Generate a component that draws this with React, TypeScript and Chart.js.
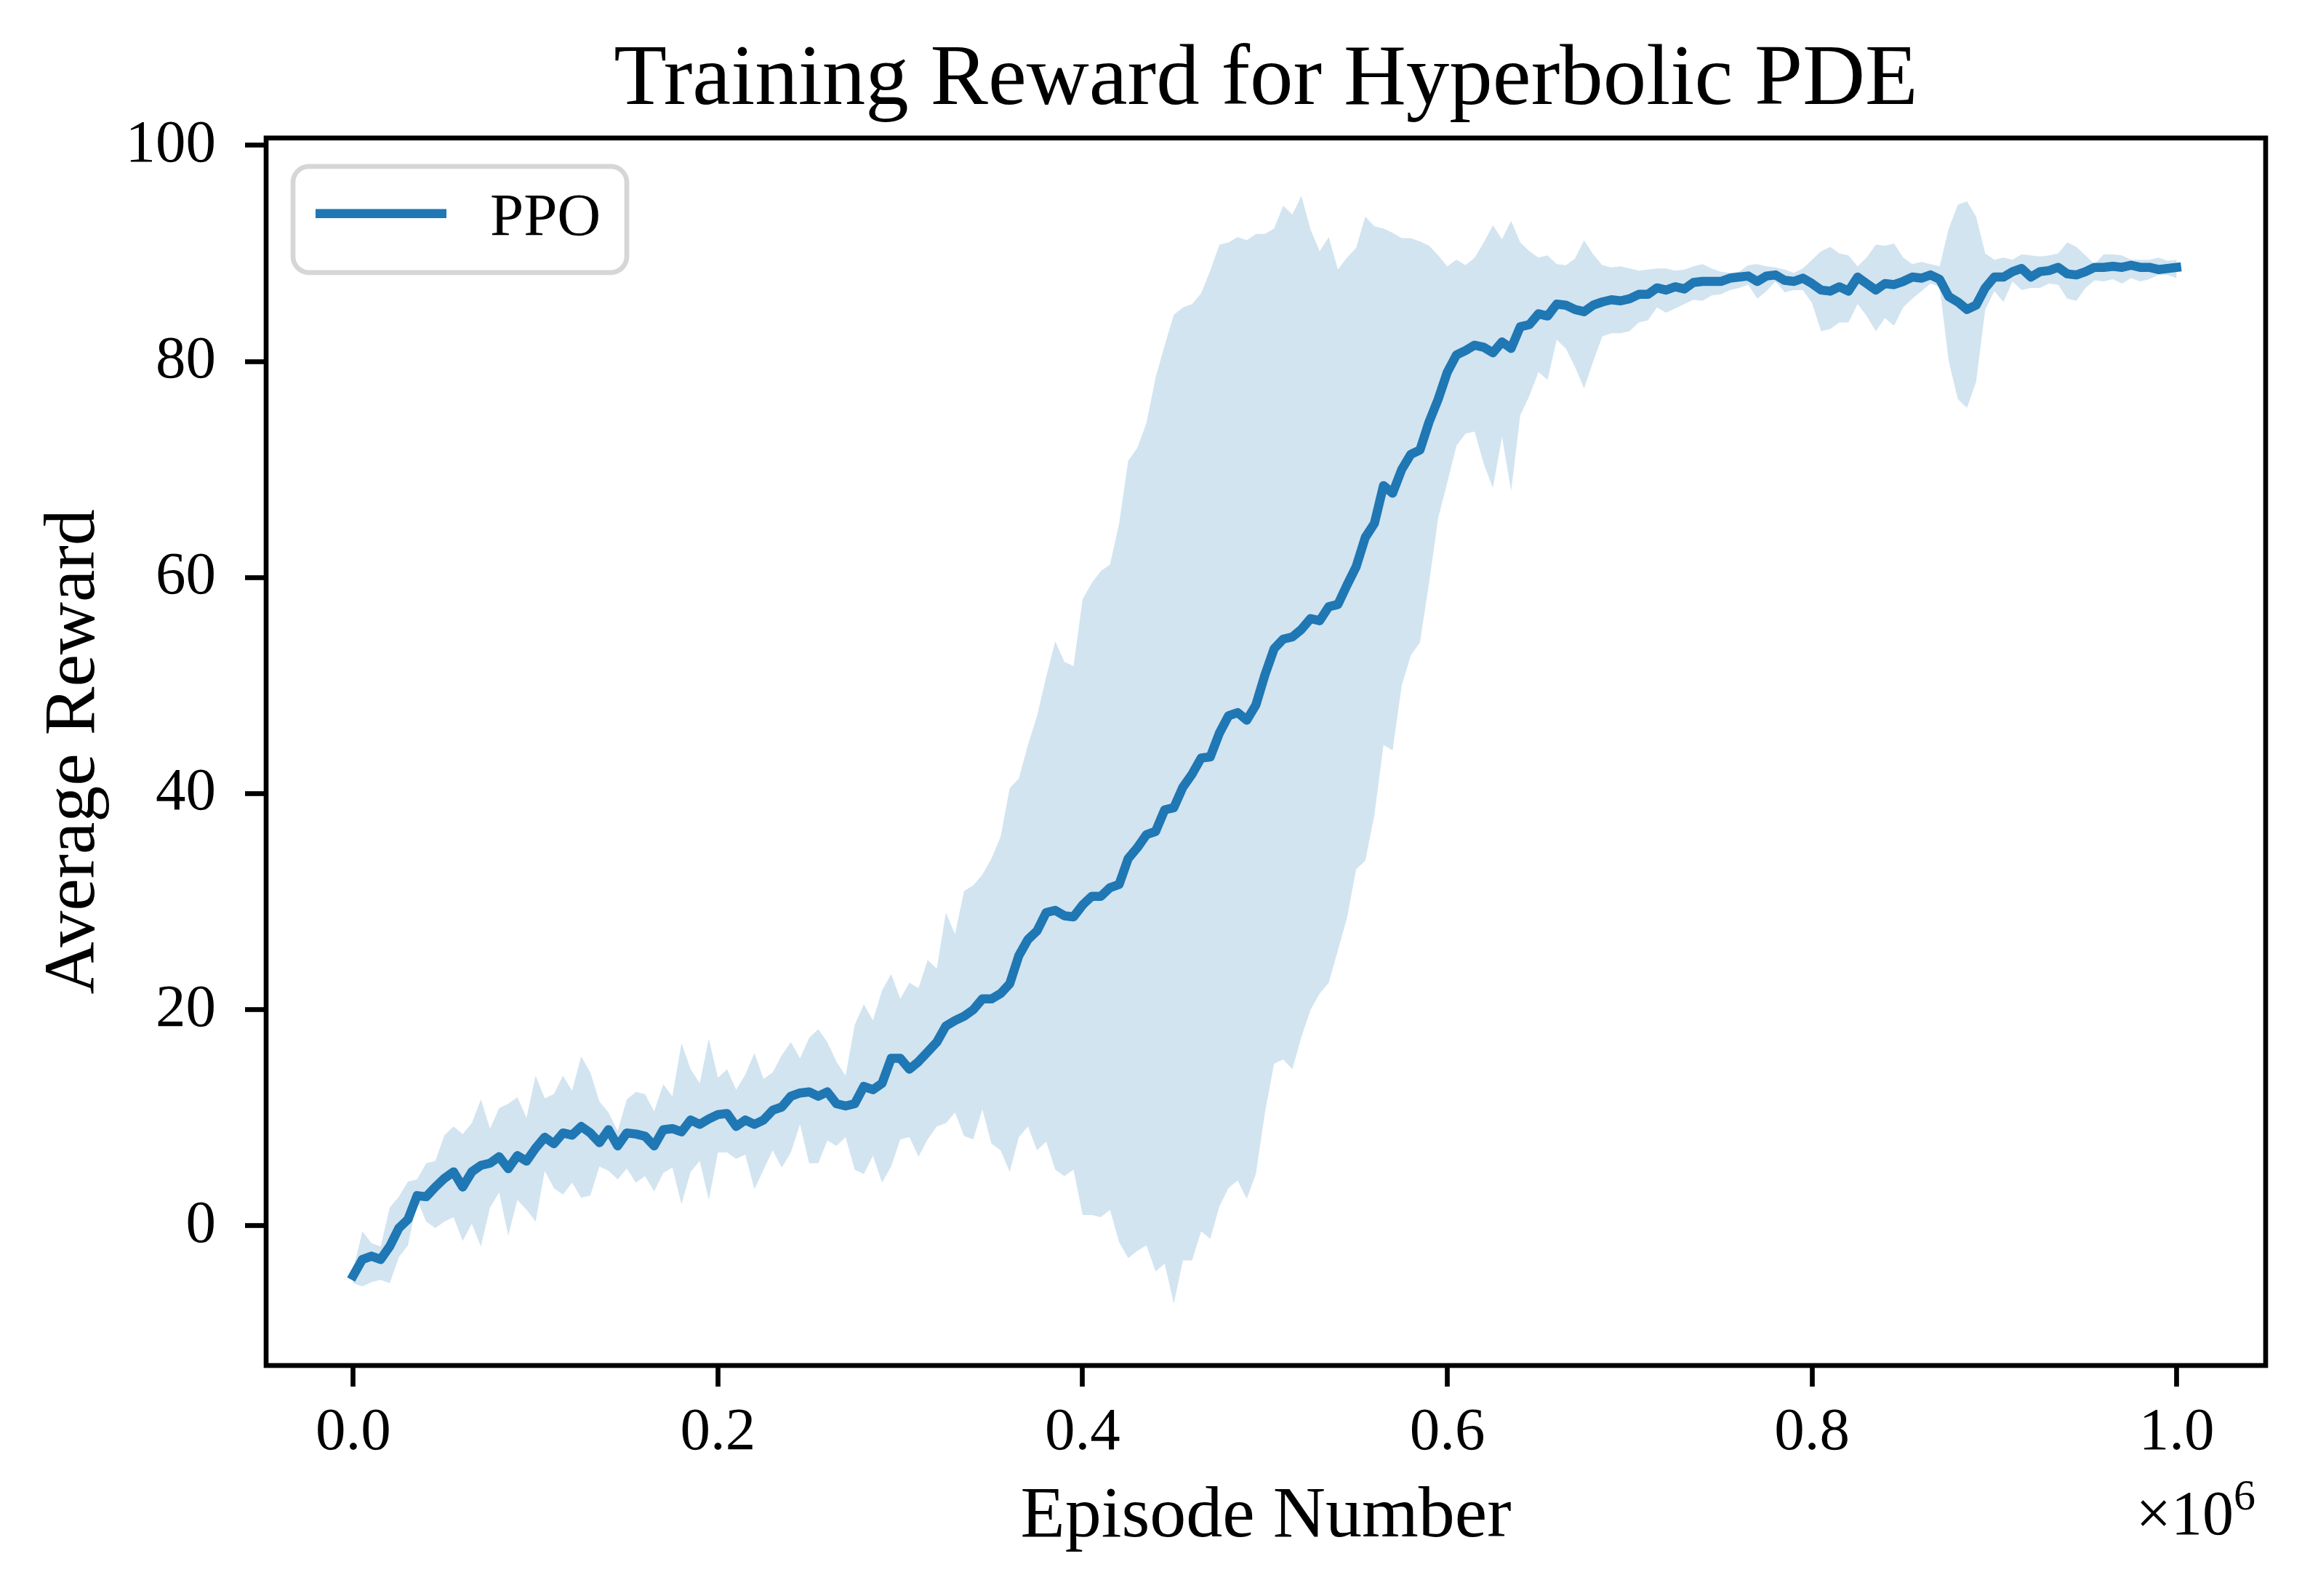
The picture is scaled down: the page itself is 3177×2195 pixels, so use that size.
import { useEffect, useRef } from "react";
import { Chart, registerables } from "chart.js";

Chart.register(...registerables);

// Episodes are logged every 5,000 steps; values below are plotted in millions of episodes.
const EPISODE_STEP_MILLIONS = 0.005;

const meanReward = [
  -4.6, -3.1, -2.8, -3.1, -1.9, -0.2, 0.6, 2.8, 2.7, 3.6,
  4.4, 5.0, 3.6, 5.0, 5.6, 5.8, 6.4, 5.3, 6.5, 6.0,
  7.2, 8.2, 7.6, 8.6, 8.4, 9.2, 8.6, 7.7, 8.9, 7.4,
  8.6, 8.5, 8.3, 7.4, 8.9, 9.0, 8.7, 9.8, 9.4, 9.9,
  10.3, 10.4, 9.2, 9.8, 9.4, 9.8, 10.7, 11.0, 12.0, 12.3,
  12.4, 12.0, 12.4, 11.3, 11.1, 11.3, 12.9, 12.6, 13.2, 15.5,
  15.5, 14.5, 15.2, 16.1, 17.0, 18.5, 19.0, 19.4, 20.0, 21.0,
  21.0, 21.5, 22.4, 25.0, 26.5, 27.3, 29.0, 29.2, 28.7, 28.6,
  29.7, 30.5, 30.5, 31.3, 31.6, 34.0, 35.0, 36.2, 36.5, 38.5,
  38.7, 40.6, 41.8, 43.3, 43.4, 45.6, 47.2, 47.5, 46.8, 48.2,
  51.0, 53.4, 54.3, 54.5, 55.2, 56.2, 56.0, 57.3, 57.5, 59.3,
  61.0, 63.7, 65.0, 68.5, 67.8, 70.0, 71.4, 71.8, 74.4, 76.5,
  79.0, 80.6, 81.0, 81.5, 81.3, 80.8, 81.8, 81.2, 83.2, 83.4,
  84.4, 84.2, 85.3, 85.2, 84.8, 84.6, 85.2, 85.5, 85.7, 85.6,
  85.8, 86.2, 86.2, 86.8, 86.6, 86.9, 86.7, 87.3, 87.4, 87.4,
  87.4, 87.7, 87.8, 87.9, 87.4, 87.9, 88.0, 87.5, 87.4, 87.7,
  87.2, 86.6, 86.5, 86.9, 86.5, 87.8, 87.2, 86.6, 87.2, 87.1,
  87.4, 87.8, 87.7, 88.0, 87.6, 86.0, 85.5, 84.8, 85.2, 86.8,
  87.8, 87.8, 88.3, 88.6, 87.8, 88.3, 88.4, 88.7, 88.1, 88.0,
  88.3, 88.7, 88.7, 88.8, 88.7, 88.9, 88.7, 88.7, 88.5, 88.6,
  88.7,
];

const upperBand = [
  -4.0, -0.5, -1.6, -1.9, 1.7, 2.7, 4.1, 4.3, 5.8, 6.0,
  8.4, 9.2, 8.5, 9.5, 11.7, 9.0, 10.9, 11.3, 11.9, 10.0,
  13.9, 11.8, 12.2, 13.9, 12.5, 15.7, 14.2, 11.5, 10.5, 8.8,
  11.7, 12.4, 12.2, 10.6, 13.1, 12.0, 16.9, 14.5, 13.2, 17.3,
  13.7, 14.5, 12.6, 14.0, 16.0, 13.6, 14.2, 15.8, 17.0, 15.5,
  17.4, 18.2, 17.0, 15.2, 13.9, 18.6, 20.5, 19.0, 21.8, 23.3,
  21.0, 22.5, 22.0, 24.6, 23.8, 29.0, 27.0, 31.0, 31.5, 32.5,
  34.0, 36.0, 40.5, 41.4, 44.5, 47.2, 50.8, 54.1, 52.2, 51.8,
  58.0, 59.5, 60.6, 61.2, 65.0, 70.8, 72.0, 74.3, 78.5, 81.5,
  84.3, 85.0, 85.3, 86.3, 88.4, 90.8, 91.0, 91.5, 91.2, 91.8,
  91.8, 92.3, 94.4, 93.6, 95.3, 92.2, 90.2, 91.5, 88.5, 89.6,
  90.5, 93.4, 92.5, 92.3, 91.9, 91.4, 91.4, 91.1, 90.7, 89.8,
  88.8, 89.4, 88.9, 89.6, 91.0, 92.6, 91.3, 93.0, 91.0, 90.2,
  89.6, 89.8, 89.0, 88.9, 89.5, 91.2, 89.9, 88.9, 88.7, 88.8,
  88.6, 88.4, 88.5, 88.6, 88.6, 88.4, 88.5, 88.8, 89.0, 88.6,
  88.3, 88.2, 88.3, 88.9, 89.0, 88.8, 88.7, 88.5, 88.2, 88.6,
  89.4, 90.2, 90.6, 90.0, 89.8, 88.8, 89.6, 90.8, 90.7, 90.9,
  89.6, 89.0, 89.2, 89.0, 88.8, 92.3, 94.5, 94.8, 93.4, 90.0,
  89.4, 89.6, 89.4, 89.9, 89.8, 89.7, 89.8, 90.0, 91.0, 90.6,
  89.8, 89.0, 89.9, 89.9, 89.8, 89.4, 89.4, 89.4, 89.6, 89.3,
  89.4,
];

const lowerBand = [
  -5.3, -5.6, -5.2, -5.0, -5.3, -2.9, -1.8, 2.4, 0.4, -0.2,
  0.4, 0.8, -1.4, 0.2, -1.9, 1.7, 3.1, -0.9, 2.4, 1.5,
  0.4, 5.1, 3.5, 2.9, 4.0, 2.6, 2.8, 5.5, 5.1, 4.3,
  5.3, 4.0, 4.6, 3.2, 4.9, 5.4, 2.0, 5.0, 6.0, 2.4,
  6.8, 6.8, 6.2, 6.6, 3.4, 5.2, 7.0, 5.4, 6.8, 9.4,
  5.8, 5.8, 7.9, 7.4, 8.2, 5.2, 4.8, 6.5, 4.0, 5.5,
  8.0, 8.2, 6.4, 8.0, 9.2, 9.5, 10.5, 8.3, 8.0, 10.8,
  7.6, 7.0, 5.0, 8.2, 9.2, 7.0, 7.8, 5.2, 4.6, 5.2,
  1.0, 1.0, 0.8, 1.5, -1.5, -3.0, -2.3, -1.8, -4.2, -3.5,
  -7.2, -3.2, -3.2, -0.5, -1.2, 1.8, 3.5, 4.2, 2.5, 4.8,
  10.5, 15.0, 15.4, 14.5, 17.5, 20.0, 21.5, 22.5, 25.5, 28.5,
  33.0, 33.8, 38.0, 44.5, 44.0, 50.0, 52.8, 54.0, 59.5, 65.5,
  68.8, 72.2, 73.3, 73.5, 70.5, 68.3, 73.0, 68.0, 75.0, 76.8,
  79.0, 78.3, 82.0, 81.2, 79.5, 77.5, 80.0, 82.3, 82.6, 82.6,
  82.8, 83.6, 83.8, 85.0, 84.5, 84.9, 85.3, 85.7, 85.6, 86.1,
  86.2, 86.6, 86.8, 87.1, 85.8, 86.5, 87.4, 86.4, 86.6, 86.6,
  85.4, 82.8, 83.0, 83.6, 83.6, 85.3, 84.2, 82.8, 84.0, 83.3,
  85.0, 85.8, 86.5, 87.2, 86.9, 80.0, 76.5, 75.7, 78.1, 84.8,
  86.5, 85.5, 87.4, 86.6, 86.8, 86.8, 87.2, 87.1, 85.8, 85.6,
  86.8, 87.5, 87.4, 87.6, 87.2, 87.7, 87.4, 87.6, 88.0, 88.0,
  87.7,
];

const xTickValues = [0, 0.2, 0.4, 0.6, 0.8, 1.0];
const yTickValues = [0, 20, 40, 60, 80, 100];

const seriesLabel = "PPO";
const chartTitle = "Training Reward for Hyperbolic PDE";
const xAxisLabel = "Episode Number";
const yAxisLabel = "Average Reward";
const xOffsetBase = "\u00d710";
const xOffsetExponent = "6";

const W = 3177;
const H = 2195;
const FONT = "'Liberation Serif', 'Times New Roman', Times, serif";
const BLUE = "#1f77b4";
const BAND = "rgba(31, 119, 180, 0.2)";
const SPINE = 6.67;
const TICK_LEN = 29;

const toPoints = (values: number[]) =>
  values.map((y, i) => ({ x: i * EPISODE_STEP_MILLIONS, y }));

// Axes frame, legend box and the x-axis scale factor text.
const decorations = {
  id: "decorations",
  afterDraw(chart: any) {
    const { ctx, chartArea: a } = chart;
    ctx.save();

    ctx.strokeStyle = "#000";
    ctx.lineWidth = SPINE;
    ctx.lineJoin = "miter";
    ctx.strokeRect(a.left, a.top, a.right - a.left, a.bottom - a.top);

    const lx = a.left + 37;
    const ly = a.top + 39;
    const lw = 459;
    const lh = 146;
    ctx.beginPath();
    ctx.roundRect(lx, ly, lw, lh, 22);
    ctx.fillStyle = "rgba(255,255,255,0.8)";
    ctx.fill();
    ctx.strokeStyle = "#d6d6d6";
    ctx.lineWidth = 6.67;
    ctx.stroke();

    ctx.strokeStyle = BLUE;
    ctx.lineWidth = 12.5;
    ctx.lineCap = "butt";
    ctx.beginPath();
    ctx.moveTo(lx + 31, ly + 65);
    ctx.lineTo(lx + 211, ly + 65);
    ctx.stroke();

    ctx.fillStyle = "#000";
    ctx.textAlign = "left";
    ctx.textBaseline = "alphabetic";
    ctx.font = `83px ${FONT}`;
    ctx.fillText(chart.data.datasets[0].label, lx + 271, ly + 94);

    const expFont = `60px ${FONT}`;
    ctx.font = expFont;
    const expW = ctx.measureText(xOffsetExponent).width;
    ctx.font = `86px ${FONT}`;
    const baseW = ctx.measureText(xOffsetBase).width;
    const right = a.right - 14;
    const baseY = a.bottom + 232;
    ctx.fillText(xOffsetBase, right - expW - baseW, baseY);
    ctx.font = expFont;
    ctx.fillText(xOffsetExponent, right - expW, baseY - 34);

    ctx.restore();
  },
};

export default function App() {
  const canvasRef = useRef<HTMLCanvasElement>(null);

  useEffect(() => {
    const canvas = canvasRef.current;
    if (!canvas) return;

    const tickFont = { family: FONT, size: 83 };

    const chart = new Chart(canvas, {
      type: "line",
      data: {
        datasets: [
          {
            label: seriesLabel,
            data: toPoints(meanReward),
            borderColor: BLUE,
            borderWidth: 12.5,
            pointRadius: 0,
            tension: 0,
            fill: false,
            borderJoinStyle: "round",
            borderCapStyle: "square",
          },
          {
            label: "upper",
            data: toPoints(upperBand),
            borderColor: "transparent",
            borderWidth: 0,
            pointRadius: 0,
            tension: 0,
            fill: "+1",
            backgroundColor: BAND,
          },
          {
            label: "lower",
            data: toPoints(lowerBand),
            borderColor: "transparent",
            borderWidth: 0,
            pointRadius: 0,
            tension: 0,
            fill: false,
          },
        ],
      },
      options: {
        animation: false,
        responsive: false,
        devicePixelRatio: 1,
        events: [],
        layout: { padding: { left: 0, right: 61, top: 0, bottom: 0 } },
        plugins: {
          legend: { display: false },
          tooltip: { enabled: false },
          title: {
            display: true,
            text: chartTitle,
            color: "#000",
            fullSize: false,
            font: { family: FONT, size: 119, weight: "normal" },
            padding: { top: 40, bottom: 7 },
          },
        },
        scales: {
          x: {
            type: "linear",
            min: -0.0478,
            max: 1.0488,
            afterBuildTicks: (scale: any) => {
              scale.ticks = xTickValues.map((v) => ({ value: v }));
            },
            afterFit: (scale: any) => {
              scale.height = 317;
            },
            ticks: {
              color: "#000",
              font: tickFont,
              padding: 14,
              maxRotation: 0,
              autoSkip: false,
              callback: (v: any) => Number(v).toFixed(1),
            },
            grid: {
              display: true,
              drawOnChartArea: false,
              drawTicks: true,
              tickLength: TICK_LEN,
              tickWidth: SPINE,
              tickColor: "#000",
            },
            border: { display: false },
            title: {
              display: true,
              text: xAxisLabel,
              color: "#000",
              font: { family: FONT, size: 100 },
              padding: { top: 0, bottom: 48 },
            },
          },
          y: {
            type: "linear",
            min: -12.92,
            max: 100.67,
            afterBuildTicks: (scale: any) => {
              scale.ticks = yTickValues.map((v) => ({ value: v }));
            },
            afterFit: (scale: any) => {
              scale.width = 366;
            },
            ticks: {
              color: "#000",
              font: tickFont,
              padding: 40,
              autoSkip: false,
              callback: (v: any) => String(v),
            },
            grid: {
              display: true,
              drawOnChartArea: false,
              drawTicks: true,
              tickLength: TICK_LEN,
              tickWidth: SPINE,
              tickColor: "#000",
            },
            border: { display: false },
            title: {
              display: true,
              text: yAxisLabel,
              color: "#000",
              font: { family: FONT, size: 100 },
              padding: { top: 43, bottom: 0 },
            },
          },
        },
      },
      plugins: [decorations],
    } as any);

    return () => chart.destroy();
  }, []);

  return (
    <div
      style={{
        position: "fixed",
        left: 0,
        top: 0,
        width: W,
        height: H,
        background: "#fff",
      }}
    >
      <canvas
        ref={canvasRef}
        width={W}
        height={H}
        style={{ width: W, height: H, display: "block" }}
      />
    </div>
  );
}
